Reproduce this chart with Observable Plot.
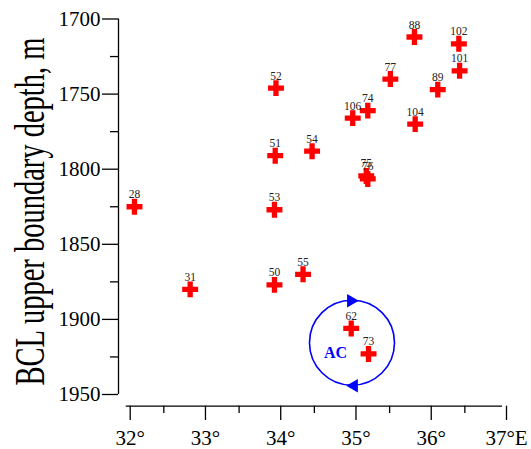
<!DOCTYPE html>
<html>
<head>
<meta charset="utf-8">
<script src="https://cdn.jsdelivr.net/npm/d3@7"></script>
<script src="https://cdn.jsdelivr.net/npm/@observablehq/plot@0.6"></script>
<style>
  html, body { margin: 0; padding: 0; background: #fff; }
  svg text { font-family: "Liberation Serif", "Times New Roman", serif !important; font-variant: normal !important; }
</style>
</head>
<body>
<script>
// Station numbers, longitude (°E) and BCL upper boundary depth (m)
const station = ["28","31","50","53","51","52","54","55","62","73","106","74","75","76","77","88","104","89","102","101"];
const lon     = [32.11,32.85,33.97,33.97,33.98,33.99,34.47,34.35,34.99,35.22,35.01,35.21,35.19,35.21,35.51,35.83,35.84,36.14,36.42,36.43];
const depth   = [1825,1880,1877,1827,1791,1746,1788,1870,1906,1923,1766,1761,1804.5,1806.5,1740,1712,1770,1747,1716.5,1734.5];

// Axis ticks
const xMajor = [32,33,34,35,36,37];
const xMinor = [32.5,33.5,34.5,35.5,36.5];
const xLabels = ["32°","33°","34°","35°","36°","37°E"];
const yMajor = [1700,1750,1800,1850,1900,1950];
const yMinor = [1725,1775,1825,1875,1925];
const yLabel = "BCL upper boundary depth, m";

// Anticyclonic eddy annotation
const acLon = [35.0];
const acDepth = [1915.5];
const acText = ["AC"];
const acTextLon = [34.78];
const acTextDepth = [1922];

const idx = d3.range(station.length);
const blue = "#0000ff";
const serif = "Liberation Serif";

const svg = Plot.plot({
  width: 531,
  height: 449,
  marginLeft: 118,
  marginRight: 29,
  marginTop: 18.5,
  marginBottom: 43.3,
  x: {domain: [32, 37], range: [125.7, 502]},
  y: {domain: [1700, 1950], range: [18.5, 394]},
  style: {fontFamily: serif, background: "white", color: "black"},
  marks: [
    // axis lines
    Plot.ruleX([32], {x: d => d, y1: 1700, y2: 1950, dx: -7.7, stroke: "black", strokeWidth: 1.3}),
    Plot.ruleY([1950], {y: d => d, x1: 32, x2: 37, dy: 11.7, stroke: "black", strokeWidth: 1.3}),
    // y axis
    Plot.axisY(yMinor, {tickSize: 8, tickFormat: () => "", label: null, strokeWidth: 1.3}),
    Plot.axisY(yMajor, {tickSize: 16, tickPadding: 2, fontSize: 21, fontFamily: serif, label: null, strokeWidth: 1.3,
      tickFormat: d => String(d), fill: "black"}),
    // x axis
    Plot.axisX(xMinor, {tickSize: 7.3, tickFormat: () => "", label: null, strokeWidth: 1.3}),
    Plot.axisX(xMajor, {tickSize: 14.3, tickPadding: 9.5, fontSize: 21, fontFamily: serif, label: null, strokeWidth: 1.3, dx: 4,
      tickFormat: d => xLabels[xMajor.indexOf(d)], fill: "black"}),
    // AC eddy circle with arrows
    Plot.dot(acLon.map((d, i) => i), {x: i => acLon[i], y: i => acDepth[i], r: 42.5, stroke: blue, strokeWidth: 1.6, fill: "none"}),
    Plot.dot(acLon.map((d, i) => i), {x: i => acLon[i], y: i => acDepth[i], symbol: "triangle", r: 5, fill: blue, rotate: 90, dy: -42, dx: -1}),
    Plot.dot(acLon.map((d, i) => i), {x: i => acLon[i], y: i => acDepth[i], symbol: "triangle", r: 5, fill: blue, rotate: -90, dy: 43, dx: 2}),
    Plot.text(acText.map((d, i) => i), {x: i => acTextLon[i], y: i => acTextDepth[i], text: i => acText[i],
      fontSize: 16, fontWeight: "bold", fontFamily: serif, fill: blue, textAnchor: "middle"}),
    // stations
    Plot.dot(idx, {x: i => lon[i], y: i => depth[i], symbol: "cross", r: 6.7, fill: "#ff0000"}),
    Plot.text(idx, {x: i => lon[i], y: i => depth[i], text: i => station[i], dy: -8.5, lineAnchor: "bottom",
      fontSize: 11.5, fontFamily: serif, fill: "#222", textAnchor: "middle"}),
    // y label
    Plot.text([yLabel], {frameAnchor: "left", text: d => d, rotate: -90, dx: 43.3 - 118, dy: -1,
      fontSize: 42, fontFamily: serif, textAnchor: "middle", lineAnchor: "bottom", fill: "black"})
  ]
});

document.body.appendChild(svg);

// condense the y-axis title along its length, as in the reference
const t = Array.from(svg.querySelectorAll("text")).find(e => e.textContent === yLabel);
if (t) {
  t.setAttribute("textLength", "348");
  t.setAttribute("lengthAdjust", "spacingAndGlyphs");
}
</script>
</body>
</html>
